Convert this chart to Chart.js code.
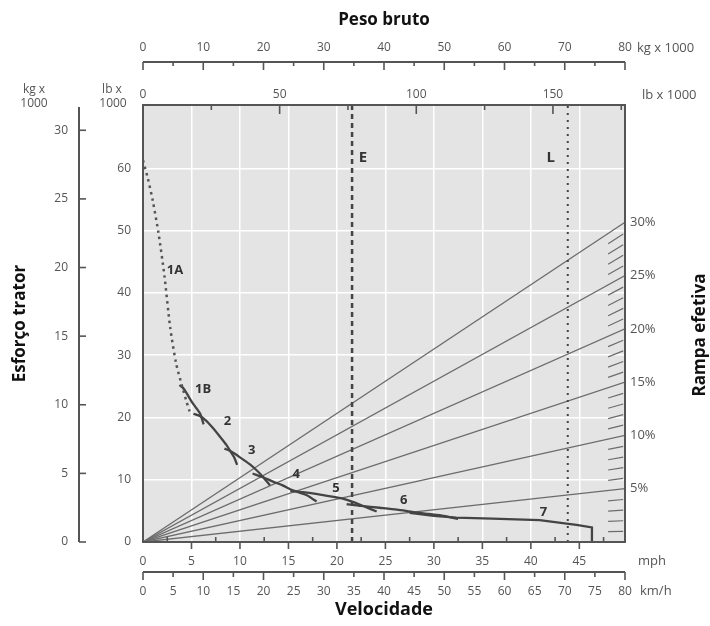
<!DOCTYPE html>
<html>
<head>
<meta charset="utf-8">
<script src="https://cdn.jsdelivr.net/npm/chart.js@4.4.0/dist/chart.umd.min.js"></script>
<style>
html, body { margin: 0; padding: 0; background: #fff; }
</style>
</head>
<body>
<canvas id="myChart" width="710" height="626"></canvas>
<script>
// eixos (valores com rotulo)
const kgTopLabels = [0, 10, 20, 30, 40, 50, 60, 70, 80]
const lbTopLabels = [0, 50, 100, 150]
const kgLeftLabels = [0, 5, 10, 15, 20, 25, 30]
const lbLeftLabels = [0, 10, 20, 30, 40, 50, 60]
const mphLabels = [0, 5, 10, 15, 20, 25, 30, 35, 40, 45]
const kmhLabels = [0, 5, 10, 15, 20, 25, 30, 35, 40, 45, 50, 55, 60, 65, 70, 75, 80]
const gradeLabels = [30, 25, 20, 15, 10, 5]
const hatchPercents = [1, 2, 3, 4, 6, 7, 8, 9, 11, 12, 13, 14, 16, 17, 18, 19, 21, 22, 23, 24, 26, 27, 28, 29]

// peso vazio (E) e carregado (L), kg x 1000
const weightMarks = ['E', 'L']
const weightValues = [34.7, 70.5]

// curvas de esforco: velocidade (mph) e esforco (lb x 1000)
const gearNames = ['1A', '1B', '2', '3', '4', '5', '6', '7']
const gear1A_mph = [0, 0.5, 1.0, 1.6, 2.2, 2.8, 3.4, 4.0, 4.5, 4.8]
const gear1A_klb = [61.3, 58.4, 54.9, 49.6, 42.9, 34.5, 28.8, 25.2, 22.5, 21.0]
const gear1B_mph = [3.75, 4.1, 4.5, 5.0, 5.5, 5.9, 6.25]
const gear1B_klb = [25.2, 24.8, 23.9, 22.6, 21.5, 20.6, 18.9]
const gear2_mph = [5.2, 5.9, 6.5, 7.1, 7.9, 8.6, 9.0, 9.4, 9.7]
const gear2_klb = [20.6, 20.2, 19.5, 18.5, 17.0, 15.6, 14.6, 13.6, 12.4]
const gear3_mph = [8.4, 9.0, 10.0, 11.0, 11.8, 12.4, 13.1]
const gear3_klb = [15.0, 14.6, 13.6, 12.5, 11.4, 10.4, 9.1]
const gear4_mph = [11.3, 12.4, 13.4, 14.4, 15.3, 16.2, 16.9, 17.9]
const gear4_klb = [11.0, 10.4, 9.7, 9.1, 8.4, 7.9, 7.5, 6.5]
const gear5_mph = [15.2, 16.5, 18.0, 19.5, 20.5, 21.7, 23.0, 24.1]
const gear5_klb = [8.2, 8.0, 7.7, 7.3, 7.0, 6.4, 5.6, 4.9]
const gear6_mph = [21.0, 22.5, 24.4, 26.2, 27.9, 29.5, 31.0, 32.5]
const gear6_klb = [6.1, 5.8, 5.5, 5.2, 4.8, 4.5, 4.2, 3.7]
const gear7_mph = [27.5, 30.0, 32.3, 36.0, 40.9, 44.7, 46.3, 46.3]
const gear7_klb = [4.7, 4.2, 3.9, 3.75, 3.5, 2.75, 2.35, 0]

// posicao dos rotulos das marchas (mph, lb x 1000)
const gearLabelMph = [3.3, 6.2, 8.7, 11.2, 15.8, 19.9, 26.9, 41.3]
const gearLabelKlb = [43.7, 24.6, 19.4, 14.8, 10.9, 8.7, 6.7, 4.8]

const mphMax = 80 / 1.609344
const lbMax = 70.2
const lbPerKg = 2.20462
const gradeMax = 41.0

const FONT = "'Open Sans', sans-serif"
const TEXT = '#555'
const CURVE = '#444'

const pts = (xs, ys) => xs.map((x, i) => ({ x: x, y: ys[i] }))

const gearSeries = [
    [gear1A_mph, gear1A_klb], [gear1B_mph, gear1B_klb], [gear2_mph, gear2_klb], [gear3_mph, gear3_klb],
    [gear4_mph, gear4_klb], [gear5_mph, gear5_klb], [gear6_mph, gear6_klb], [gear7_mph, gear7_klb]
]

const datasets = []

gearSeries.forEach((g, i) => {
    datasets.push({
        label: gearNames[i],
        data: pts(g[0], g[1]),
        xAxisID: 'x',
        yAxisID: 'yLb',
        borderColor: i === 0 ? '#555' : CURVE,
        borderWidth: i === 0 ? 2.5 : 2.3,
        borderDash: i === 0 ? [2.5, 4] : [],
        tension: i === 7 ? 0 : 0.25,
        pointRadius: 0,
        order: 1
    })
})

weightValues.forEach((w, i) => {
    datasets.push({
        label: weightMarks[i],
        data: [{ x: w, y: 0 }, { x: w, y: lbMax }],
        xAxisID: 'xKg',
        yAxisID: 'yLb',
        borderColor: '#444',
        borderWidth: i === 0 ? 2.5 : 2,
        borderDash: i === 0 ? [5, 4] : [2, 5],
        pointRadius: 0,
        order: 2
    })
})

gradeLabels.forEach(p => {
    datasets.push({
        label: p + '%',
        data: [{ x: 0, y: 0 }, { x: 80, y: p }],
        xAxisID: 'xKg',
        yAxisID: 'grade',
        borderColor: '#6c6c6c',
        borderWidth: 1.3,
        pointRadius: 0,
        order: 3
    })
})

function seg(ctx, x1, y1, x2, y2) {
    ctx.beginPath()
    ctx.moveTo(x1, y1)
    ctx.lineTo(x2, y2)
    ctx.stroke()
}

function txt(ctx, s, x, y, font, color, align) {
    ctx.font = font
    ctx.fillStyle = color
    ctx.textAlign = align || 'center'
    ctx.textBaseline = 'middle'
    ctx.fillText(s, x, y)
}

const decor = {
    id: 'decor',
    beforeDraw(chart) {
        const { ctx, chartArea: a } = chart
        ctx.save()
        ctx.fillStyle = '#e4e4e4'
        ctx.fillRect(a.left, a.top, a.right - a.left, a.bottom - a.top)
        ctx.restore()
    },
    afterDraw(chart) {
        const { ctx, chartArea: a, scales } = chart
        const sKg = scales.xKg, sLb = scales.xLb, sX = scales.x, sKmh = scales.xKmh
        const sYKg = scales.yKg, sG = scales.grade
        ctx.save()
        ctx.lineCap = 'butt'

        // marcas de rampa na borda direita
        ctx.strokeStyle = '#6c6c6c'
        ctx.lineWidth = 1.2
        hatchPercents.forEach(p => {
            seg(ctx, sKg.getPixelForValue(77.2), sG.getPixelForValue(p * 77.2 / 80),
                sKg.getPixelForValue(79.7), sG.getPixelForValue(p * 79.7 / 80))
        })

        // borda do grafico
        ctx.strokeStyle = '#555'
        ctx.lineWidth = 2
        ctx.strokeRect(a.left, a.top, a.right - a.left, a.bottom - a.top)

        // regua kg (topo)
        const yK = sKg.bottom - 16
        seg(ctx, sKg.left, yK, sKg.right, yK)
        ctx.lineWidth = 1.6
        sKg.ticks.forEach(t => {
            const x = sKg.getPixelForValue(t.value)
            seg(ctx, x, yK, x, yK + (t.value % 10 === 0 ? 8 : 4))
        })

        // marcas lb (borda superior)
        sLb.ticks.forEach(t => {
            const x = sLb.getPixelForValue(t.value)
            seg(ctx, x, a.top, x, a.top + (t.value % 50 === 0 ? 9 : 5))
        })

        // regua kg (esquerda)
        const xK = sYKg.right - 13
        ctx.lineWidth = 2
        seg(ctx, xK, a.top + 2, xK, a.bottom)
        ctx.lineWidth = 1.6
        sYKg.ticks.forEach(t => {
            const y = sYKg.getPixelForValue(t.value)
            seg(ctx, xK, y, xK + 7, y)
        })

        // marcas mph
        sX.ticks.forEach(t => {
            const x = sX.getPixelForValue(t.value)
            if (t.value === 0) return
            if (t.value % 5 === 0) seg(ctx, x, a.bottom, x, a.bottom + 7)
            else seg(ctx, x, a.bottom, x, a.bottom - 5)
        })

        // regua km/h
        const yH = sKmh.top + 4
        ctx.lineWidth = 2
        seg(ctx, sKmh.left, yH, sKmh.right, yH)
        ctx.lineWidth = 1.6
        sKmh.ticks.forEach(t => {
            const x = sKmh.getPixelForValue(t.value)
            seg(ctx, x, yH, x, yH + (t.value % 10 === 0 ? 8 : 5))
        })

        // unidades
        const small = '12px ' + FONT
        const unit = '13px ' + FONT
        txt(ctx, 'kg x 1000', sKg.right + 12, sKg.bottom - 30, unit, TEXT, 'left')
        txt(ctx, 'lb x 1000', sLb.right + 17, sLb.bottom - 10, unit, TEXT, 'left')
        txt(ctx, 'mph', sX.right + 13, sX.top + 19, unit, TEXT, 'left')
        txt(ctx, 'km/h', sKmh.right + 15, sKmh.top + 23, unit, TEXT, 'left')
        txt(ctx, 'kg x', 34, 90, small, TEXT)
        txt(ctx, '1000', 34, 104, small, TEXT)
        txt(ctx, 'lb x', 112, 90, small, TEXT)
        txt(ctx, '1000', 113, 104, small, TEXT)

        // titulo direito
        ctx.save()
        ctx.translate(700, 335)
        ctx.rotate(-Math.PI / 2)
        txt(ctx, 'Rampa efetiva', 0, 0, 'bold 17px ' + FONT, '#111')
        ctx.restore()

        // rotulos E e L
        weightMarks.forEach((m, i) => {
            const x = sKg.getPixelForValue(weightValues[i]) + (i === 0 ? 11 : -17)
            txt(ctx, m, x, scales.yLb.getPixelForValue(61.7), 'bold 15px ' + FONT, '#333')
        })

        // rotulos das marchas
        gearNames.forEach((g, i) => {
            txt(ctx, g, sX.getPixelForValue(gearLabelMph[i]), scales.yLb.getPixelForValue(gearLabelKlb[i]),
                'bold 13px ' + FONT, '#333')
        })
        ctx.restore()
    }
}

const tickFont = { family: FONT, size: 12 }
const noGrid = { display: false, drawTicks: false }

new Chart(document.getElementById('myChart'), {
    type: 'line',
    data: { datasets: datasets },
    options: {
        responsive: false,
        animation: false,
        events: [],
        layout: { padding: 0 },
        plugins: { legend: { display: false }, tooltip: { enabled: false } },
        scales: {
            x: {
                type: 'linear', position: 'bottom', weight: 0, min: 0, max: mphMax,
                grid: {
                    drawTicks: false, lineWidth: 1.5,
                    color: c => (c.tick && c.tick.value > 0 && c.tick.value % 5 === 0) ? '#ffffff' : 'rgba(0,0,0,0)'
                },
                border: { display: false },
                ticks: {
                    stepSize: 2.5, includeBounds: false, autoSkip: false, maxRotation: 0, padding: 12,
                    color: TEXT, font: tickFont,
                    callback: v => mphLabels.includes(v) ? String(v) : ''
                },
                afterFit: s => { s.height = 26 }
            },
            xKmh: {
                type: 'linear', position: 'bottom', weight: 1, min: 0, max: 80,
                grid: noGrid,
                border: { display: false },
                ticks: {
                    stepSize: 5, includeBounds: false, autoSkip: false, maxRotation: 0, padding: 16,
                    color: TEXT, font: tickFont,
                    callback: v => kmhLabels.includes(v) ? String(v) : ''
                },
                title: {
                    display: true, text: 'Velocidade', color: '#111',
                    font: { family: FONT, size: 18, weight: 'bold' }, padding: { top: 0, bottom: 5 }
                },
                afterFit: s => { s.height = 58 }
            },
            xKg: {
                type: 'linear', position: 'top', weight: 1, min: 0, max: 80,
                grid: noGrid,
                border: { display: false },
                ticks: {
                    stepSize: 5, includeBounds: false, autoSkip: false, maxRotation: 0, padding: 23,
                    color: TEXT, font: tickFont,
                    callback: v => kgTopLabels.includes(v) ? String(v) : ''
                },
                title: {
                    display: true, text: 'Peso bruto', color: '#111',
                    font: { family: FONT, size: 17, weight: 'bold' }, padding: { top: 10, bottom: 0 }
                },
                afterFit: s => { s.height = 78 }
            },
            xLb: {
                type: 'linear', position: 'top', weight: 0, min: 0, max: 80 * lbPerKg,
                grid: noGrid,
                border: { display: false },
                ticks: {
                    stepSize: 25, includeBounds: false, autoSkip: false, maxRotation: 0, padding: 3,
                    color: TEXT, font: tickFont,
                    callback: v => lbTopLabels.includes(v) ? String(v) : ''
                },
                afterFit: s => { s.height = 27 }
            },
            yLb: {
                type: 'linear', position: 'left', weight: 0, min: 0, max: lbMax,
                grid: {
                    drawTicks: false, lineWidth: 1.5,
                    color: c => (c.tick && c.tick.value > 0 && lbLeftLabels.includes(c.tick.value)) ? '#ffffff' : 'rgba(0,0,0,0)'
                },
                border: { display: false },
                ticks: {
                    stepSize: 10, includeBounds: false, autoSkip: false, padding: 12,
                    color: TEXT, font: tickFont,
                    callback: v => lbLeftLabels.includes(v) ? String(v) : ''
                },
                afterFit: s => { s.width = 51 }
            },
            yKg: {
                type: 'linear', position: 'left', weight: 1, min: 0, max: lbMax / lbPerKg,
                grid: noGrid,
                border: { display: false },
                ticks: {
                    stepSize: 5, includeBounds: false, autoSkip: false, padding: 24,
                    color: TEXT, font: tickFont,
                    callback: v => kgLeftLabels.includes(v) ? String(v) : ''
                },
                title: {
                    display: true, text: 'Esforço trator', color: '#111',
                    font: { family: FONT, size: 17, weight: 'bold' }, padding: { top: 10, bottom: 0 }
                },
                afterFit: s => { s.width = 92 }
            },
            grade: {
                type: 'linear', position: 'right', min: 0, max: gradeMax,
                grid: noGrid,
                border: { display: false },
                afterBuildTicks: s => { s.ticks = gradeLabels.map(v => ({ value: v })) },
                ticks: {
                    autoSkip: false, padding: 5,
                    color: TEXT, font: { family: FONT, size: 13 },
                    callback: v => v + '%'
                },
                afterFit: s => { s.width = 85 }
            }
        }
    },
    plugins: [decor]
})
</script>
</body>
</html>
